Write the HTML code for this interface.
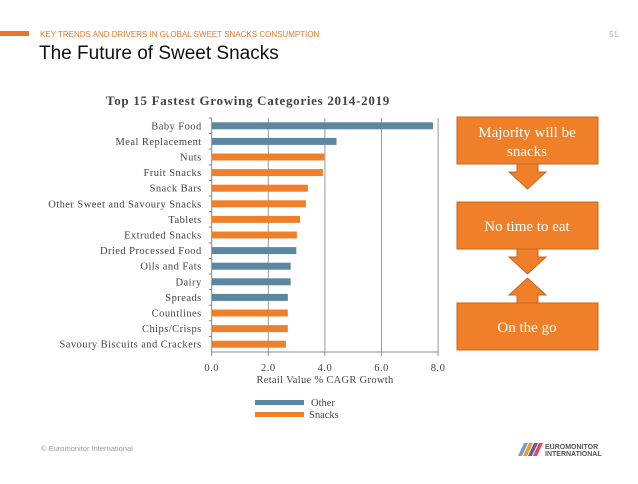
<!DOCTYPE html>
<html><head><meta charset="utf-8"><style>
body{margin:0;width:638px;height:479px;background:#fff;overflow:hidden;position:relative;font-family:"Liberation Sans",sans-serif}
</style></head><body>
<svg id="s" width="638" height="479" xmlns="http://www.w3.org/2000/svg">
<rect x="0" y="31" width="29" height="5" fill="#E8762B"/>
<text x="40" y="37" font-size="8" fill="#E8762B" font-family="Liberation Sans, sans-serif">KEY TRENDS AND DRIVERS IN GLOBAL SWEET SNACKS CONSUMPTION</text>
<text x="618" y="37" font-size="8" fill="#aaa" text-anchor="end">51</text>
<text x="39" y="59" font-size="19" fill="#111" font-family="Liberation Sans, sans-serif">The Future of Sweet Snacks</text>
<text x="248" y="105" font-size="13" font-weight="bold" fill="#444" text-anchor="middle" letter-spacing="0.7" font-family="Liberation Serif, serif">Top 15 Fastest Growing Categories 2014-2019</text>
<g id="chart" font-family="Liberation Serif, serif" font-size="10.5" fill="#444"></g>
<g font-family="Liberation Serif, serif" fill="#fff" font-size="15" text-anchor="middle">
<rect x="457" y="117" width="141" height="47" fill="#F07F2A" stroke="#C8651F"/>
<text x="527" y="137">Majority will be</text>
<text x="527" y="156">snacks</text>
<polygon points="517,164 538,164 538,172 546,172 527.5,189 509,172 517,172" fill="#F07F2A" stroke="#C8651F"/>
<rect x="457" y="202" width="141" height="47" fill="#F07F2A" stroke="#C8651F"/>
<text x="527" y="231">No time to eat</text>
<polygon points="517,249 538,249 538,257 546,257 527.5,274 509,257 517,257" fill="#F07F2A" stroke="#C8651F"/>
<polygon points="517,303 538,303 538,295 546,295 527.5,278 509,295 517,295" fill="#F07F2A" stroke="#C8651F"/>
<rect x="457" y="303" width="141" height="47" fill="#F07F2A" stroke="#C8651F"/>
<text x="527" y="332">On the go</text>
</g>
<text x="41" y="451" font-size="7.5" fill="#999">© Euromonitor International</text>
<g>
<polygon points="518,456 524,443 528,443 522,456" fill="#7a9cc6"/>
<polygon points="523,456 529,443 533,443 527,456" fill="#e0a030"/>
<polygon points="528,456 534,443 538,443 532,456" fill="#6a5aa8"/>
<polygon points="533,456 539,443 543,443 537,456" fill="#e04a6a"/>
<text x="545" y="449" font-size="7" font-weight="bold" fill="#555">EUROMONITOR</text>
<text x="545" y="456" font-size="7" font-weight="bold" fill="#555">INTERNATIONAL</text>
</g>
</svg>
<script>
const categories=["Baby Food","Meal Replacement","Nuts","Fruit Snacks","Snack Bars","Other Sweet and Savoury Snacks","Tablets","Extruded Snacks","Dried Processed Food","Oils and Fats","Dairy","Spreads","Countlines","Chips/Crisps","Savoury Biscuits and Crackers"];
const values=[7.82,4.41,3.98,3.93,3.40,3.33,3.12,3.01,2.99,2.79,2.79,2.69,2.69,2.69,2.62];
const groups=["Other","Other","Snacks","Snacks","Snacks","Snacks","Snacks","Snacks","Other","Other","Other","Other","Snacks","Snacks","Snacks"];
const ticks=[0,2,4,6,8];
const tickLabels=["0.0","2.0","4.0","6.0","8.0"];
const legendNames=["Other","Snacks"];
const colors={Other:"#5D87A1",Snacks:"#F07F2A"};
const NS="http://www.w3.org/2000/svg";
const g=document.getElementById('chart');
const x0=211.7,xs=28.3,yTop=118,step=15.6,plotBottom=352;
const X=v=>x0+v*xs;
const Y=i=>yTop+i*step+step/2;
function mk(t,a){const e=document.createElementNS(NS,t);for(const k in a)e.setAttribute(k,a[k]);g.appendChild(e);return e;}
ticks.forEach((t,i)=>{
 const l=mk('line',{x1:X(t),x2:X(t),y1:yTop,y2:plotBottom+4,stroke:i==0?'#888':'#999','stroke-width':1});
 
 
 const tx=mk('text',{x:X(t),y:plotBottom+19,'text-anchor':'middle','letter-spacing':'0.5'});tx.textContent=tickLabels[i];
 
 
});
const base=mk('line',{x1:x0,x2:X(8),y1:plotBottom,y2:plotBottom,stroke:'#888'});


categories.forEach((c,i)=>{
 const r=mk('rect',{x:x0,y:Y(i)-3.5,width:X(values[i])-x0,height:7,fill:colors[groups[i]]});
 
 
 const tk=mk('line',{x1:x0-3,x2:x0,y1:yTop+i*step,y2:yTop+i*step,stroke:'#888'});
 
 
 const t=mk('text',{x:x0-10,y:Y(i)+3.5,'text-anchor':'end','letter-spacing':'0.45'});t.textContent=c;
 
 
});
const at=mk('text',{x:325,y:383,'text-anchor':'middle','letter-spacing':'0.3'});at.textContent="Retail Value % CAGR Growth";


legendNames.forEach((n,i)=>{
 const r=mk('rect',{x:255,y:400+i*12,width:49,height:5,fill:colors[n]});
 
 
 const t=mk('text',{x:i==0?311:309,y:406+i*12});t.textContent=n;
 
 
});
</script>
</body></html>
